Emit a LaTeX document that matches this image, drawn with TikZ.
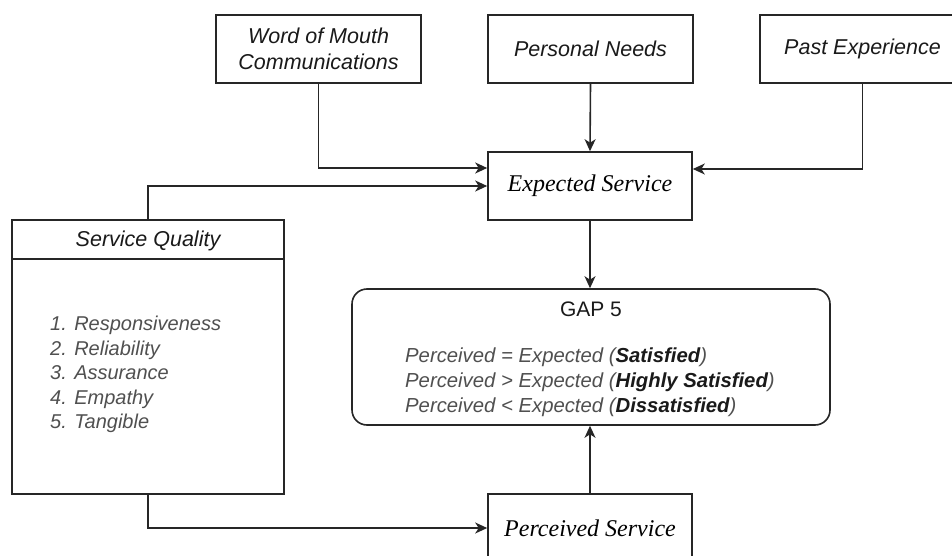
\documentclass[tikz,border=0pt]{standalone}
\usepackage{fontspec}
\setmainfont{Liberation Sans}
\newfontfamily\serifit{Liberation Serif}
\usetikzlibrary{arrows.meta,positioning}
\definecolor{titletxt}{HTML}{1A1A1A}
\definecolor{bodytxt}{HTML}{505050}
\tikzset{
  line/.style={draw=black!85, line width=1.6pt},
  arr/.style={line, -{Stealth[length=12pt,width=11pt,inset=3.5pt]}},
  topbox/.style={line, rectangle, minimum width=205pt, minimum height=68pt, inner sep=0pt,
    align=center, font=\fontsize{21.5}{26}\selectfont\itshape, text=titletxt},
  servbox/.style={line, rectangle, minimum width=204pt, minimum height=68pt, inner sep=0pt,
    font=\serifit\fontsize{24}{28}\selectfont\itshape, text=black},
  bodytext/.style={inner sep=0pt, align=left, text=bodytxt, font=\fontsize{20}{24.5}\selectfont\itshape},
}
\begin{document}
\begin{tikzpicture}[x=1pt,y=-1pt]
\useasboundingbox (0,0) rectangle (952,556);
\fill[white] (0,0) rectangle (952,556);
% top boxes
\node[topbox] (wom) at (318.5,49) {Word of Mouth\\Communications};
\node[topbox] (pn) at (590.5,49) {Personal Needs};
\node[topbox] (pe) at (862.5,49) {Past Experience};
% expected / perceived
\node[servbox] (es) at (590,186) {Expected Service};
\node[servbox] (ps) at (590,528) {Perceived Service};
% service quality
\node[line, rectangle, minimum width=272pt, minimum height=274pt, inner sep=0pt] (sq) at (148,357) {};
\draw[line] ([yshift=-40pt]sq.north west) -- ([yshift=-40pt]sq.north east);
\node[inner sep=0pt, text=titletxt, font=\fontsize{21.5}{26}\selectfont\itshape] (sqt) at (148,241) {Service Quality};
\node[bodytext, anchor=west] (sql) at (50,374.5) {1. Responsiveness\\2. Reliability\\3. Assurance\\4. Empathy\\5. Tangible};
% gap box
\node[line, rectangle, rounded corners=15pt, minimum width=478pt, minimum height=136pt, inner sep=0pt] (gap) at (591,357) {};
\node[inner sep=0pt, text=titletxt, font=\fontsize{21}{25}\selectfont] (gapt) at (591,309) {GAP 5};
\node[bodytext, anchor=west, font=\fontsize{20.3}{25}\selectfont\itshape] (gapl) at (405,382.5) {%
Perceived = Expected (\textcolor{titletxt}{\textbf{Satisfied}})\\
Perceived > Expected (\textcolor{titletxt}{\textbf{Highly Satisfied}})\\
Perceived < Expected (\textcolor{titletxt}{\textbf{Dissatisfied}})};
% connectors
\draw[arr] (wom.south) |- ([yshift=18pt]es.west);
\draw[arr] (pn.south) -- (es.north);
\draw[arr] (pe.south) |- ([yshift=17pt]es.east);
\draw[arr] (sq.north) |- (es.west);
\draw[arr] (es.south) -- (gap.north -| es.south);
\draw[arr] (ps.north) -- (gap.south -| ps.north);
\draw[arr] (sq.south) |- (ps.west);
\end{tikzpicture}
\end{document}
